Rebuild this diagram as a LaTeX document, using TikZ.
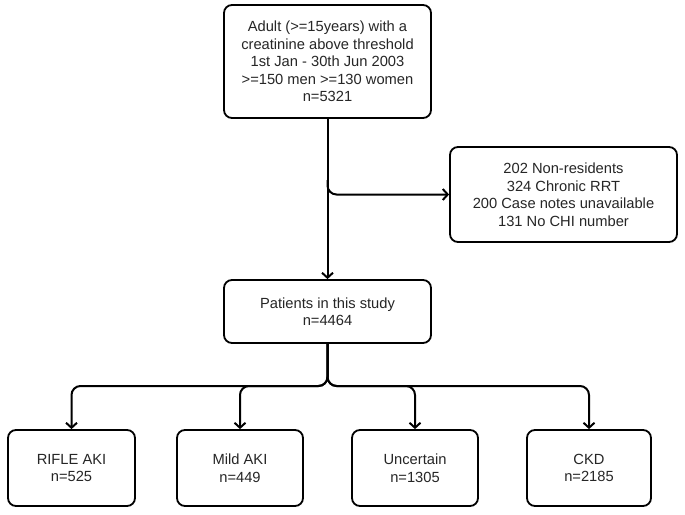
\documentclass[tikz,border=0pt]{standalone}
\usepackage{fontspec}
\setmainfont{Liberation Sans}
\usetikzlibrary{arrows.meta}
\begin{document}
\begin{tikzpicture}[x=1pt,y=-1pt,
  box/.style={draw=black, line width=1.8pt, rounded corners=8pt, align=center,
    font=\fontsize{14.7}{17.5}\selectfont, text=black!85, inner sep=0pt, fill=white},
  conn/.style={line width=2pt, rounded corners=9pt},
  tip/.style={-{Straight Barb[length=5pt,width=11pt]}}]
\useasboundingbox (0,0) rectangle (685,514);
\node[box, minimum width=207pt, minimum height=113pt] (top) at (327.5,61.5)
  {Adult (>=15years) with a\\creatinine above threshold\\1st Jan - 30th Jun 2003\\>=150 men >=130 women\\n=5321};
\node[box, minimum width=227pt, minimum height=95pt] (excl) at (563.5,194.5)
  {202 Non-residents\\324 Chronic RRT\\200 Case notes unavailable\\131 No CHI number};
\node[box, minimum width=207pt, minimum height=63pt] (mid) at (327.5,311.5)
  {Patients in this study\\n=4464};
\node[box, minimum width=127pt, minimum height=76pt] (rifle) at (71.5,468)
  {RIFLE AKI\\n=525};
\node[box, minimum width=126pt, minimum height=76pt] (mild) at (240,468)
  {Mild AKI\\n=449};
\node[box, minimum width=126pt, minimum height=76pt] (unc) at (415,468)
  {Uncertain\\n=1305};
\node[box, minimum width=124pt, minimum height=76pt] (ckd) at (589,468)
  {CKD\\n=2185};
\coordinate (br) at (top.south |- 0,180);
\coordinate (j) at (mid.south |- 0,386);
\draw[conn, tip] (top.south) -- (mid.north);
\draw[conn, tip] (br) |- (excl.west);
\draw[conn, tip] (mid.south) -- (j) -| (rifle.north);
\draw[conn, tip] (mid.south) -- (j) -| (mild.north);
\draw[conn, tip] (mid.south) -- (j) -| (unc.north);
\draw[conn, tip] (mid.south) -- (j) -| (ckd.north);
\end{tikzpicture}
\end{document}
